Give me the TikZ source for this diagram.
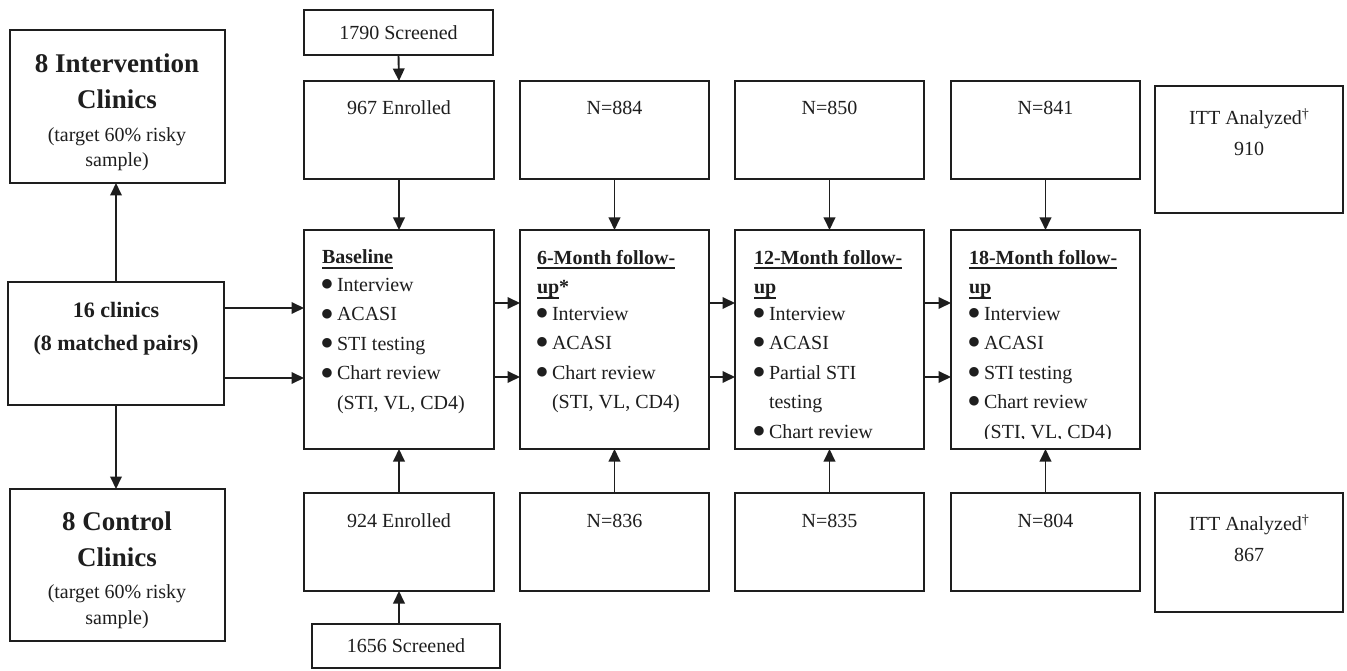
\documentclass[tikz,border=0pt]{standalone}
\usepackage{fontspec}
\setmainfont{Liberation Serif}
\newfontfamily\dejavu{DejaVu Sans}
\usetikzlibrary{arrows.meta}
\definecolor{ink}{HTML}{1E1E1E}
\newcommand{\ulb}[1]{\setbox0\hbox{#1}\rlap{\rule[-5pt]{\wd0}{1.7pt}}\box0}
\newcommand{\itm}{\makebox[15pt][l]{\hspace{-0.5pt}\raisebox{3.6pt}{\dejavu\fontsize{12.5}{12.5}\selectfont ●}}}
\newcommand{\dagsup}{\raisebox{6.5pt}{\fontsize{14}{14}\selectfont\dag}}
\begin{document}
\begin{tikzpicture}[x=1pt,y=-1pt,
  box/.style={draw=ink, line width=1.9pt, inner sep=0pt, outer sep=0pt, text=ink, font=\fontsize{20}{24}\selectfont},
  txt/.style={inner sep=0pt, outer sep=0pt, text=ink, font=\fontsize{20}{24}\selectfont},
  big/.style={inner sep=0pt, outer sep=0pt, text=ink, align=center, font=\fontsize{20}{25.5}\selectfont},
  list/.style={inner sep=0pt, outer sep=0pt, text=ink, align=left, anchor=north west, font=\fontsize{20}{29.5}\selectfont},
  arr/.style={draw=ink, line width=1.9pt, -{Triangle[length=12.5pt,width=11.5pt]}}]
\useasboundingbox (0,0) rectangle (1347,671);
\fill[white] (0,0) rectangle (1347,671);

% left column
\node[box, minimum width=215pt, minimum height=153pt] (intv) at (117.5,106.5) {};
\node[box, minimum width=216pt, minimum height=123pt] (clin) at (116,343.5) {};
\node[box, minimum width=215pt, minimum height=152pt] (ctrl) at (117.5,565) {};
\node[big, anchor=north] (intvT) at (117,53.3) {{\fontsize{27}{25.5}\selectfont\bfseries 8 Intervention}\\[11.1pt]{\fontsize{27}{25.5}\selectfont\bfseries Clinics}\\[7.2pt](target 60\% risky\\sample)};
\node[big, anchor=north] (ctrlT) at (117,511.6) {{\fontsize{27}{25.5}\selectfont\bfseries 8 Control}\\[11.1pt]{\fontsize{27}{25.5}\selectfont\bfseries Clinics}\\[6.5pt](target 60\% risky\\sample)};
\node[big, anchor=north, font=\fontsize{22}{33.3}\selectfont\bfseries] (clinT) at (116,302) {16 clinics\\(8 matched pairs)};

% baseline column
\node[box, minimum width=189pt, minimum height=45pt] (scr1) at (398.5,32.5) {1790 Screened};
\node[box, minimum width=190pt, minimum height=98pt] (enr1) at (399,130) {};
\node[box, minimum width=190pt, minimum height=219pt] (base) at (399,339.5) {};
\node[box, minimum width=190pt, minimum height=98pt] (enr2) at (399,542) {};
\node[box, minimum width=188pt, minimum height=44pt] (scr2) at (406,646) {1656 Screened};
\node[txt, anchor=base] (enr1T) at (399,115) {967 Enrolled};
\node[txt, anchor=base] (enr2T) at (399,527) {924 Enrolled};
\node[list] (baseT) at (322,250) {\ulb{\bfseries Baseline}\\[-2pt]
  \itm Interview\\ \itm ACASI\\ \itm STI testing\\ \itm Chart review\\ \hspace*{15pt}(STI, VL, CD4)};

% 6-month column
\node[box, minimum width=189pt, minimum height=98pt] (n884) at (614.5,130) {};
\node[box, minimum width=189pt, minimum height=219pt] (m6) at (614.5,339.5) {};
\node[box, minimum width=189pt, minimum height=98pt] (n836) at (614.5,542) {};
\node[txt, anchor=base] (n884T) at (614.5,115) {N=884};
\node[txt, anchor=base] (n836T) at (614.5,527) {N=836};
\node[list] (m6T) at (537,250) {\ulb{\bfseries 6-Month follow-}\\ \ulb{\bfseries up}\textbf{*}\\[-3pt]
  \itm Interview\\ \itm ACASI\\ \itm Chart review\\ \hspace*{15pt}(STI, VL, CD4)};

% 12-month column
\node[box, minimum width=189pt, minimum height=98pt] (n850) at (829.5,130) {};
\node[box, minimum width=189pt, minimum height=219pt] (m12) at (829.5,339.5) {};
\node[box, minimum width=189pt, minimum height=98pt] (n835) at (829.5,542) {};
\node[txt, anchor=base] (n850T) at (829.5,115) {N=850};
\node[txt, anchor=base] (n835T) at (829.5,527) {N=835};
\node[list] (m12T) at (754,250) {\ulb{\bfseries 12-Month follow-}\\ \ulb{\bfseries up}\\[-3pt]
  \itm Interview\\ \itm ACASI\\ \itm Partial STI\\ \hspace*{15pt}testing\\ \itm Chart review};

% 18-month column
\node[box, minimum width=189pt, minimum height=98pt] (n841) at (1045.5,130) {};
\node[box, minimum width=189pt, minimum height=219pt] (m18) at (1045.5,339.5) {};
\node[box, minimum width=189pt, minimum height=98pt] (n804) at (1045.5,542) {};
\node[txt, anchor=base] (n841T) at (1045.5,115) {N=841};
\node[txt, anchor=base] (n804T) at (1045.5,527) {N=804};
\begin{scope}
\clip (m18.north west) rectangle ([yshift=10.5pt]m18.south east);
\node[list] (m18T) at (969,250) {\ulb{\bfseries 18-Month follow-}\\ \ulb{\bfseries up}\\[-3pt]
  \itm Interview\\ \itm ACASI\\ \itm STI testing\\ \itm Chart review\\ \hspace*{15pt}(STI, VL, CD4)};
\end{scope}

% ITT boxes
\node[box, minimum width=188pt, minimum height=127pt] (itt1) at (1249,149.5) {};
\node[box, minimum width=188pt, minimum height=119pt] (itt2) at (1249,552.5) {};
\node[big, anchor=north, font=\fontsize{20}{31}\selectfont] (itt1T) at (1249,108.5) {ITT Analyzed\dagsup\\910};
\node[big, anchor=north, font=\fontsize{20}{31}\selectfont] (itt2T) at (1249,514.5) {ITT Analyzed\dagsup\\867};

% connectors
\draw[arr] (clin.north) -- (clin.north |- intv.south);
\draw[arr] (clin.south) -- (clin.south |- ctrl.north);
\draw[arr] (clin.east |- 0,308) -- (base.west |- 0,308);
\draw[arr] (clin.east |- 0,378) -- (base.west |- 0,378);
\draw[arr] (base.east |- 0,303) -- (m6.west |- 0,303);
\draw[arr] (base.east |- 0,377) -- (m6.west |- 0,377);
\draw[arr] (m6.east |- 0,303) -- (m12.west |- 0,303);
\draw[arr] (m6.east |- 0,377) -- (m12.west |- 0,377);
\draw[arr] (m12.east |- 0,303) -- (m18.west |- 0,303);
\draw[arr] (m12.east |- 0,377) -- (m18.west |- 0,377);
\draw[arr] (scr1.south) -- (enr1.north);
\draw[arr] (enr1.south) -- (base.north);
\draw[arr] (enr2.north) -- (base.south);
\draw[arr] (scr2.north -| enr2.south) -- (enr2.south);
\draw[arr] (n884.south) -- (m6.north);
\draw[arr] (n836.north) -- (m6.south);
\draw[arr] (n850.south) -- (m12.north);
\draw[arr] (n835.north) -- (m12.south);
\draw[arr] (n841.south) -- (m18.north);
\draw[arr] (n804.north) -- (m18.south);
\end{tikzpicture}
\end{document}
